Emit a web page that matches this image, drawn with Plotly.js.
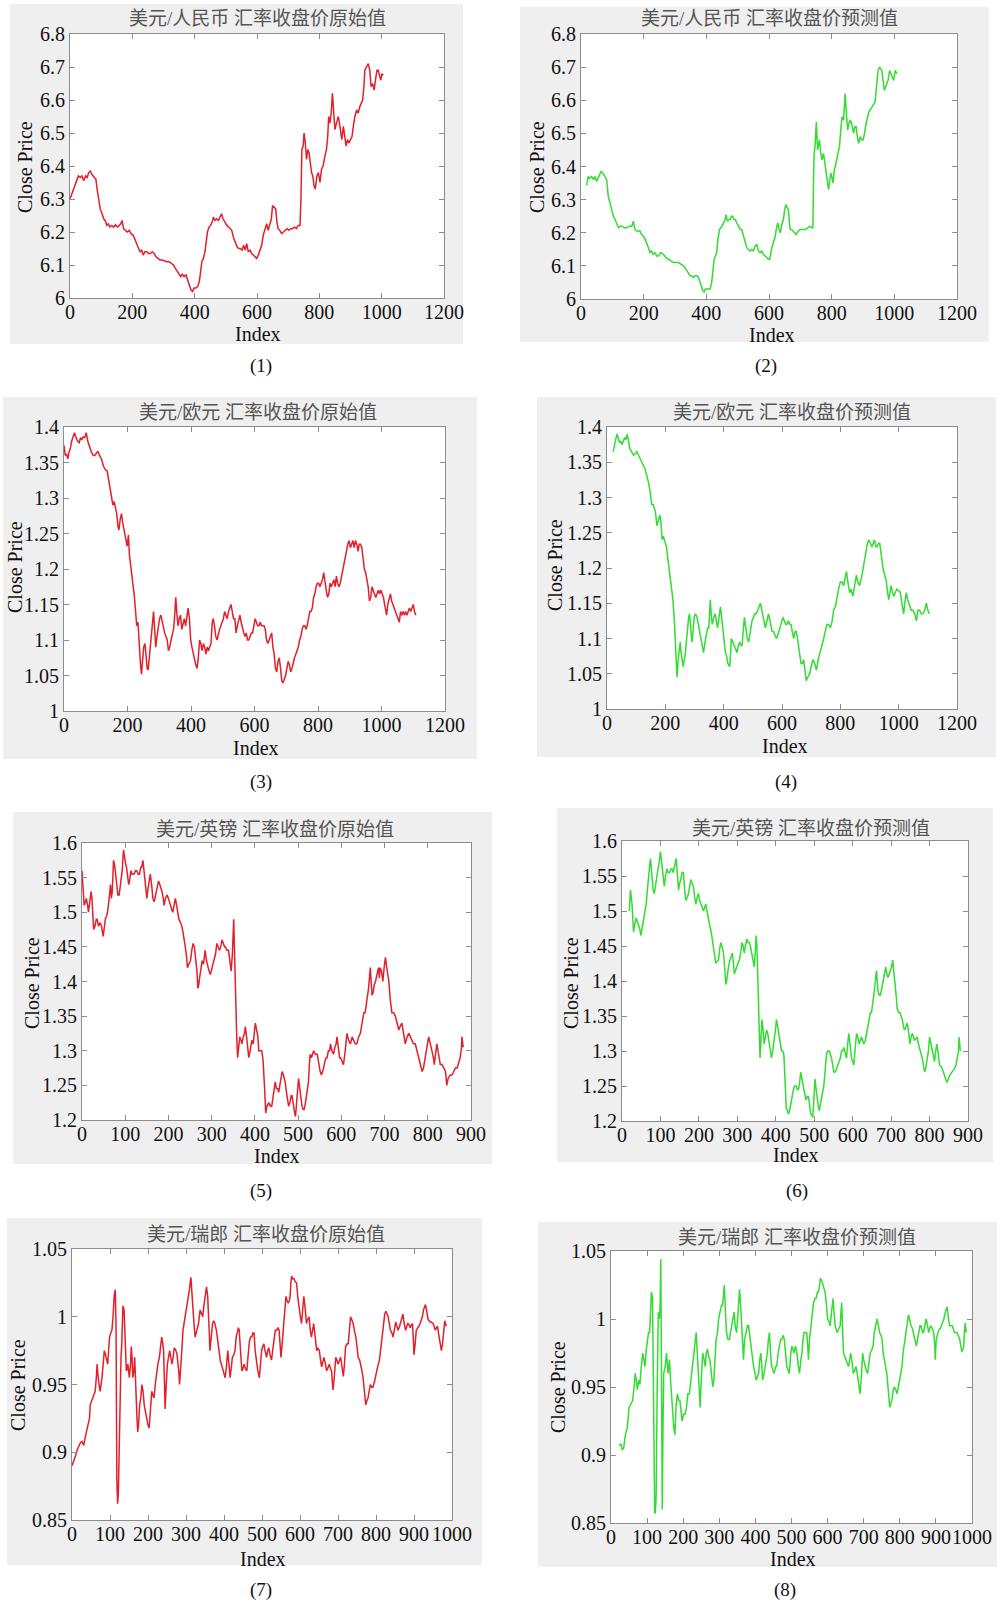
<!DOCTYPE html>
<html><head><meta charset="utf-8">
<script src="https://cdn.plot.ly/plotly-3.0.1.min.js"></script>
<style>html,body{margin:0;padding:0;background:#fff}</style>
</head><body><div id="chart" style="width:997px;height:1605px"></div>
<script>
// ---------------- DATA: [index, close price] ----------------
const usdCnyActual = [[0,6.30],[8,6.32],[15,6.34],[22,6.36],[27,6.37],[33,6.365],[38,6.37],[44,6.355],[50,6.37],[55,6.365],[60,6.38],[65,6.385],[70,6.375],[78,6.365],[83,6.36],[87,6.33],[92,6.30],[97,6.27],[103,6.255],[108,6.24],[113,6.235],[118,6.22],[123,6.225],[128,6.215],[134,6.22],[140,6.215],[146,6.222],[152,6.215],[158,6.22],[163,6.225],[167,6.235],[172,6.21],[178,6.205],[184,6.20],[190,6.205],[196,6.195],[203,6.19],[209,6.175],[214,6.16],[220,6.15],[225,6.14],[230,6.145],[235,6.13],[240,6.14],[246,6.14],[252,6.135],[258,6.135],[264,6.14],[270,6.135],[276,6.125],[282,6.12],[289,6.115],[296,6.115],[303,6.112],[310,6.11],[318,6.11],[325,6.105],[332,6.10],[338,6.09],[345,6.08],[350,6.075],[355,6.065],[360,6.072],[366,6.065],[372,6.07],[378,6.055],[383,6.04],[388,6.025],[393,6.02],[398,6.03],[404,6.03],[410,6.035],[415,6.05],[419,6.09],[423,6.11],[428,6.12],[433,6.14],[437,6.17],[441,6.20],[446,6.215],[451,6.22],[456,6.23],[460,6.245],[465,6.235],[470,6.24],[476,6.235],[481,6.245],[486,6.255],[491,6.24],[497,6.23],[503,6.22],[509,6.215],[514,6.21],[519,6.205],[524,6.185],[530,6.17],[536,6.155],[541,6.15],[546,6.15],[552,6.145],[557,6.16],[562,6.145],[567,6.165],[572,6.14],[578,6.145],[583,6.135],[588,6.13],[594,6.125],[599,6.12],[604,6.13],[610,6.15],[615,6.16],[620,6.19],[626,6.21],[631,6.225],[636,6.205],[641,6.22],[646,6.24],[650,6.28],[655,6.275],[660,6.27],[664,6.23],[668,6.21],[673,6.205],[679,6.195],[685,6.20],[690,6.205],[696,6.21],[702,6.205],[708,6.21],[714,6.21],[720,6.215],[726,6.21],[732,6.22],[738,6.22],[741,6.30],[744,6.45],[748,6.46],[751,6.50],[755,6.47],[759,6.42],[763,6.45],[767,6.44],[771,6.40],[775,6.38],[779,6.37],[783,6.34],[787,6.33],[792,6.37],[797,6.38],[802,6.35],[807,6.39],[812,6.40],[818,6.43],[823,6.45],[827,6.49],[830,6.55],[834,6.53],[838,6.56],[842,6.62],[846,6.56],[850,6.51],[855,6.53],[861,6.55],[866,6.52],[872,6.48],[877,6.52],[882,6.49],[886,6.46],[890,6.48],[895,6.47],[900,6.48],[905,6.49],[909,6.52],[914,6.55],[920,6.57],[925,6.56],[930,6.58],[935,6.59],[939,6.60],[943,6.64],[946,6.69],[951,6.70],[957,6.71],[962,6.69],[966,6.64],[971,6.65],[976,6.63],[980,6.66],[985,6.69],[989,6.69],[993,6.67],[997,6.66],[1001,6.68],[1005,6.675]];

const usdCnyPredicted = [[18,6.343],[23,6.37],[28,6.365],[34,6.37],[40,6.36],[45,6.37],[50,6.355],[55,6.365],[59,6.375],[64,6.385],[70,6.38],[75,6.37],[82,6.36],[87,6.31],[92,6.295],[98,6.27],[103,6.25],[109,6.24],[115,6.225],[120,6.215],[125,6.22],[130,6.22],[138,6.215],[146,6.215],[154,6.22],[162,6.22],[167,6.235],[172,6.21],[178,6.205],[188,6.205],[193,6.195],[199,6.19],[205,6.18],[210,6.17],[215,6.155],[220,6.14],[225,6.145],[229,6.135],[236,6.14],[242,6.13],[247,6.13],[255,6.14],[263,6.135],[271,6.125],[279,6.12],[287,6.115],[295,6.11],[303,6.11],[311,6.11],[319,6.105],[327,6.10],[335,6.09],[343,6.08],[348,6.07],[353,6.07],[358,6.065],[364,6.07],[370,6.07],[375,6.065],[380,6.05],[385,6.04],[389,6.025],[393,6.02],[397,6.03],[401,6.03],[407,6.03],[412,6.03],[417,6.05],[421,6.09],[425,6.12],[429,6.13],[433,6.14],[437,6.18],[442,6.21],[446,6.215],[450,6.22],[455,6.23],[460,6.24],[463,6.255],[467,6.235],[472,6.24],[476,6.24],[480,6.25],[484,6.25],[488,6.24],[492,6.24],[497,6.23],[503,6.22],[508,6.21],[513,6.21],[518,6.19],[524,6.17],[529,6.155],[534,6.15],[540,6.145],[545,6.15],[550,6.145],[556,6.16],[561,6.165],[566,6.145],[572,6.14],[577,6.145],[582,6.135],[588,6.13],[593,6.125],[598,6.12],[602,6.12],[605,6.14],[609,6.155],[614,6.17],[620,6.19],[624,6.215],[628,6.23],[632,6.21],[636,6.20],[641,6.225],[646,6.24],[650,6.27],[654,6.285],[658,6.275],[662,6.27],[665,6.23],[668,6.21],[672,6.21],[676,6.205],[681,6.20],[687,6.195],[693,6.205],[700,6.21],[708,6.21],[716,6.21],[724,6.215],[731,6.22],[736,6.215],[740,6.215],[742,6.35],[744,6.44],[747,6.46],[751,6.535],[755,6.45],[758,6.47],[761,6.48],[765,6.44],[769,6.42],[774,6.44],[779,6.40],[783,6.37],[787,6.35],[790,6.33],[794,6.36],[797,6.38],[800,6.37],[804,6.35],[808,6.385],[811,6.40],[815,6.41],[819,6.43],[822,6.45],[825,6.46],[829,6.51],[833,6.55],[838,6.54],[841,6.58],[843,6.62],[847,6.56],[851,6.51],[855,6.53],[859,6.54],[864,6.53],[870,6.50],[874,6.52],[878,6.52],[882,6.49],[886,6.47],[891,6.49],[896,6.48],[900,6.48],[904,6.495],[908,6.52],[912,6.54],[917,6.56],[921,6.57],[926,6.575],[932,6.585],[936,6.59],[939,6.60],[942,6.63],[944,6.66],[948,6.69],[953,6.70],[957,6.695],[960,6.69],[964,6.66],[968,6.63],[972,6.64],[976,6.65],[980,6.66],[985,6.69],[989,6.68],[992,6.67],[995,6.665],[998,6.66],[1001,6.68],[1003,6.69],[1008,6.68]];

const usdEurActual = [[0,1.374],[4,1.36],[8,1.362],[12,1.355],[16,1.365],[20,1.37],[24,1.38],[28,1.385],[33,1.392],[38,1.385],[43,1.38],[48,1.378],[52,1.385],[56,1.382],[60,1.386],[65,1.385],[70,1.392],[75,1.38],[80,1.372],[86,1.365],[92,1.36],[97,1.36],[102,1.363],[107,1.366],[112,1.36],[118,1.355],[124,1.345],[130,1.34],[136,1.338],[141,1.325],[146,1.315],[150,1.30],[154,1.29],[158,1.295],[162,1.285],[166,1.278],[170,1.26],[173,1.255],[177,1.27],[181,1.278],[185,1.265],[188,1.258],[192,1.25],[196,1.24],[199,1.232],[203,1.248],[206,1.22],[210,1.205],[214,1.185],[218,1.175],[222,1.16],[226,1.14],[229,1.12],[233,1.125],[237,1.09],[241,1.065],[244,1.052],[247,1.07],[251,1.09],[255,1.095],[259,1.075],[262,1.06],[265,1.058],[268,1.075],[272,1.09],[275,1.11],[279,1.125],[282,1.14],[285,1.12],[289,1.09],[293,1.105],[297,1.12],[301,1.13],[305,1.135],[309,1.125],[313,1.12],[317,1.11],[321,1.105],[325,1.10],[329,1.085],[333,1.09],[337,1.10],[341,1.11],[345,1.115],[348,1.13],[352,1.16],[355,1.14],[359,1.12],[363,1.13],[367,1.135],[371,1.115],[375,1.125],[379,1.13],[383,1.12],[387,1.135],[391,1.145],[395,1.13],[399,1.10],[403,1.09],[407,1.08],[411,1.07],[415,1.065],[419,1.06],[423,1.075],[427,1.10],[431,1.095],[435,1.085],[439,1.095],[443,1.09],[447,1.08],[451,1.09],[455,1.085],[459,1.09],[463,1.095],[467,1.125],[470,1.13],[474,1.12],[478,1.105],[482,1.10],[486,1.11],[490,1.115],[494,1.12],[498,1.125],[502,1.13],[506,1.14],[510,1.135],[514,1.13],[518,1.14],[522,1.145],[526,1.15],[530,1.14],[534,1.13],[538,1.13],[542,1.11],[546,1.12],[550,1.13],[554,1.135],[558,1.125],[562,1.115],[566,1.11],[570,1.105],[574,1.11],[578,1.10],[582,1.10],[586,1.105],[590,1.11],[594,1.11],[598,1.12],[602,1.13],[606,1.125],[610,1.12],[614,1.12],[618,1.125],[622,1.12],[626,1.12],[630,1.12],[634,1.115],[638,1.10],[642,1.095],[646,1.10],[650,1.105],[654,1.11],[658,1.09],[662,1.08],[666,1.06],[670,1.055],[674,1.07],[678,1.075],[682,1.06],[686,1.042],[690,1.04],[694,1.045],[698,1.05],[702,1.06],[706,1.07],[710,1.065],[714,1.055],[718,1.06],[722,1.07],[726,1.075],[730,1.08],[734,1.085],[738,1.09],[742,1.10],[746,1.105],[750,1.115],[754,1.12],[758,1.12],[762,1.115],[766,1.12],[770,1.13],[774,1.14],[778,1.14],[782,1.145],[786,1.16],[790,1.165],[794,1.175],[798,1.18],[802,1.18],[806,1.175],[810,1.18],[814,1.185],[818,1.195],[822,1.18],[826,1.17],[830,1.16],[834,1.165],[838,1.18],[842,1.175],[846,1.18],[850,1.185],[854,1.175],[858,1.19],[862,1.18],[866,1.175],[870,1.18],[874,1.19],[878,1.20],[882,1.205],[886,1.22],[890,1.225],[894,1.235],[898,1.24],[902,1.23],[906,1.235],[910,1.24],[914,1.23],[918,1.24],[922,1.235],[926,1.225],[930,1.235],[934,1.235],[938,1.23],[942,1.215],[946,1.20],[950,1.195],[954,1.185],[958,1.175],[962,1.155],[966,1.16],[970,1.175],[974,1.17],[978,1.165],[982,1.16],[986,1.165],[990,1.17],[994,1.165],[998,1.17],[1002,1.165],[1006,1.16],[1010,1.15],[1014,1.14],[1016,1.135],[1020,1.15],[1024,1.16],[1028,1.165],[1032,1.155],[1036,1.15],[1040,1.145],[1044,1.14],[1048,1.135],[1052,1.13],[1056,1.125],[1060,1.14],[1064,1.135],[1068,1.14],[1072,1.135],[1076,1.14],[1080,1.135],[1084,1.14],[1088,1.145],[1092,1.14],[1096,1.145],[1100,1.15],[1104,1.14],[1108,1.135]];

const usdEurPredicted = [[21,1.365],[25,1.372],[29,1.38],[34,1.39],[38,1.385],[43,1.378],[47,1.38],[51,1.375],[56,1.38],[61,1.385],[65,1.382],[69,1.39],[74,1.38],[78,1.37],[84,1.365],[91,1.36],[97,1.362],[103,1.365],[108,1.36],[114,1.355],[120,1.35],[126,1.345],[131,1.34],[137,1.33],[143,1.32],[149,1.305],[153,1.29],[158,1.29],[162,1.285],[166,1.28],[171,1.26],[175,1.265],[181,1.275],[185,1.265],[189,1.24],[193,1.245],[197,1.24],[200,1.235],[204,1.23],[208,1.215],[212,1.20],[217,1.18],[221,1.17],[226,1.155],[231,1.125],[235,1.095],[238,1.07],[240,1.045],[244,1.07],[248,1.09],[251,1.095],[254,1.08],[258,1.07],[261,1.06],[265,1.07],[269,1.08],[273,1.10],[277,1.12],[280,1.13],[283,1.135],[287,1.115],[291,1.095],[295,1.11],[299,1.13],[303,1.135],[309,1.13],[313,1.12],[318,1.11],[322,1.10],[326,1.09],[331,1.08],[336,1.095],[341,1.11],[345,1.115],[349,1.115],[352,1.135],[354,1.155],[358,1.13],[361,1.12],[366,1.13],[371,1.135],[375,1.125],[379,1.115],[384,1.13],[389,1.145],[393,1.13],[398,1.11],[402,1.095],[406,1.08],[410,1.075],[414,1.065],[418,1.062],[421,1.06],[424,1.08],[426,1.10],[431,1.095],[437,1.09],[441,1.085],[446,1.08],[450,1.09],[455,1.095],[459,1.09],[463,1.09],[467,1.11],[471,1.13],[476,1.115],[481,1.10],[486,1.095],[491,1.11],[497,1.125],[502,1.13],[507,1.135],[512,1.135],[517,1.14],[522,1.145],[526,1.15],[531,1.14],[535,1.13],[539,1.125],[543,1.115],[548,1.125],[554,1.135],[559,1.125],[563,1.115],[566,1.11],[571,1.11],[576,1.105],[581,1.10],[586,1.105],[592,1.115],[597,1.12],[603,1.13],[608,1.125],[613,1.12],[617,1.12],[622,1.125],[627,1.12],[631,1.12],[635,1.11],[640,1.10],[645,1.11],[649,1.11],[653,1.10],[657,1.09],[661,1.08],[665,1.065],[670,1.065],[674,1.07],[679,1.055],[683,1.04],[688,1.045],[695,1.05],[700,1.06],[706,1.07],[712,1.065],[718,1.055],[724,1.07],[731,1.08],[737,1.09],[743,1.10],[748,1.11],[754,1.12],[760,1.12],[766,1.115],[772,1.125],[777,1.14],[783,1.145],[789,1.16],[794,1.17],[800,1.18],[806,1.18],[811,1.175],[816,1.185],[821,1.195],[826,1.18],[832,1.165],[837,1.17],[843,1.16],[849,1.175],[855,1.19],[860,1.18],[866,1.175],[872,1.185],[878,1.20],[883,1.21],[889,1.225],[893,1.235],[897,1.24],[903,1.235],[909,1.23],[913,1.235],[917,1.24],[922,1.23],[926,1.23],[931,1.235],[935,1.235],[940,1.22],[946,1.20],[952,1.19],[958,1.18],[962,1.165],[966,1.155],[970,1.165],[974,1.175],[979,1.165],[983,1.16],[988,1.165],[994,1.17],[1000,1.168],[1006,1.165],[1011,1.15],[1015,1.14],[1017,1.135],[1021,1.15],[1026,1.165],[1031,1.155],[1038,1.145],[1043,1.14],[1049,1.14],[1055,1.135],[1061,1.125],[1066,1.14],[1072,1.14],[1077,1.135],[1083,1.135],[1089,1.14],[1095,1.15],[1100,1.14],[1106,1.135]];

const usdGbpActual = [[0,1.56],[3,1.53],[5,1.51],[8,1.515],[10,1.52],[13,1.51],[15,1.50],[18,1.515],[21,1.53],[23,1.52],[24,1.51],[26,1.49],[27,1.475],[30,1.48],[33,1.49],[35,1.49],[38,1.48],[42,1.485],[45,1.48],[49,1.465],[52,1.48],[54,1.49],[57,1.495],[59,1.50],[62,1.515],[64,1.53],[66,1.54],[68,1.52],[70,1.53],[73,1.575],[75,1.57],[77,1.56],[79,1.545],[81,1.53],[83,1.525],[86,1.525],[88,1.535],[90,1.54],[93,1.56],[96,1.59],[99,1.575],[101,1.57],[103,1.565],[105,1.555],[108,1.54],[110,1.545],[113,1.56],[116,1.555],[120,1.555],[124,1.56],[127,1.56],[130,1.555],[133,1.555],[136,1.565],[138,1.565],[141,1.575],[144,1.555],[147,1.54],[150,1.52],[153,1.535],[156,1.545],[158,1.555],[161,1.54],[164,1.52],[167,1.515],[170,1.525],[174,1.535],[177,1.545],[180,1.54],[183,1.535],[185,1.53],[188,1.52],[190,1.51],[193,1.52],[197,1.525],[200,1.52],[204,1.51],[207,1.505],[210,1.50],[213,1.51],[216,1.52],[219,1.51],[222,1.50],[224,1.49],[228,1.485],[231,1.48],[234,1.47],[237,1.46],[239,1.45],[242,1.435],[244,1.42],[247,1.425],[251,1.43],[254,1.445],[257,1.455],[260,1.45],[262,1.44],[264,1.43],[266,1.415],[268,1.39],[270,1.395],[272,1.405],[275,1.42],[278,1.43],[281,1.425],[285,1.445],[288,1.43],[291,1.42],[294,1.415],[297,1.41],[300,1.42],[303,1.425],[305,1.43],[309,1.44],[312,1.455],[315,1.45],[318,1.445],[321,1.45],[324,1.46],[327,1.455],[330,1.45],[332,1.45],[335,1.445],[339,1.445],[342,1.43],[345,1.415],[348,1.44],[351,1.49],[353,1.44],[355,1.39],[356,1.34],[358,1.32],[360,1.29],[362,1.305],[365,1.32],[368,1.315],[370,1.31],[373,1.32],[376,1.325],[378,1.335],[381,1.32],[384,1.30],[386,1.29],[389,1.30],[393,1.315],[396,1.31],[399,1.325],[401,1.34],[404,1.33],[407,1.32],[409,1.30],[412,1.30],[416,1.30],[419,1.285],[422,1.26],[423,1.24],[425,1.21],[428,1.22],[432,1.225],[436,1.22],[439,1.22],[442,1.235],[445,1.25],[447,1.255],[450,1.245],[453,1.245],[455,1.24],[458,1.25],[461,1.26],[463,1.27],[466,1.265],[468,1.26],[470,1.255],[473,1.24],[476,1.23],[478,1.22],[481,1.225],[484,1.235],[486,1.235],[489,1.22],[492,1.21],[494,1.205],[497,1.23],[499,1.25],[501,1.26],[504,1.245],[507,1.23],[509,1.22],[512,1.215],[514,1.215],[517,1.225],[519,1.235],[521,1.24],[524,1.255],[526,1.28],[528,1.295],[531,1.29],[534,1.295],[536,1.30],[540,1.295],[544,1.295],[547,1.285],[549,1.275],[551,1.27],[554,1.265],[557,1.27],[559,1.275],[562,1.285],[565,1.29],[567,1.29],[570,1.30],[573,1.30],[575,1.31],[578,1.30],[582,1.295],[585,1.305],[588,1.31],[590,1.32],[593,1.30],[596,1.29],[598,1.29],[601,1.285],[605,1.28],[609,1.30],[613,1.325],[617,1.315],[621,1.31],[625,1.32],[628,1.315],[632,1.31],[636,1.31],[640,1.32],[644,1.325],[648,1.34],[652,1.355],[655,1.355],[659,1.37],[663,1.39],[667,1.42],[669,1.40],[671,1.38],[674,1.385],[676,1.395],[679,1.40],[683,1.41],[686,1.42],[688,1.405],[690,1.42],[693,1.415],[696,1.40],[699,1.42],[702,1.435],[705,1.42],[708,1.41],[710,1.40],[713,1.375],[715,1.36],[717,1.355],[721,1.355],[725,1.35],[729,1.34],[733,1.33],[736,1.335],[740,1.34],[744,1.325],[748,1.31],[752,1.32],[756,1.325],[760,1.32],[763,1.315],[767,1.31],[771,1.31],[775,1.30],[779,1.29],[783,1.28],[787,1.27],[790,1.275],[794,1.29],[798,1.305],[802,1.32],[806,1.31],[810,1.30],[813,1.29],[815,1.28],[818,1.295],[821,1.31],[825,1.295],[829,1.28],[833,1.28],[837,1.275],[841,1.27],[844,1.25],[847,1.26],[852,1.265],[856,1.265],[860,1.27],[864,1.275],[868,1.275],[872,1.285],[875,1.29],[878,1.305],[879,1.32],[882,1.305]];

const usdGbpPredicted = [[19,1.50],[22,1.53],[24,1.52],[26,1.51],[28,1.49],[30,1.47],[33,1.48],[37,1.49],[40,1.485],[43,1.48],[46,1.475],[49,1.465],[52,1.475],[56,1.49],[59,1.50],[63,1.51],[66,1.53],[69,1.555],[72,1.565],[74,1.575],[76,1.56],[78,1.54],[81,1.53],[84,1.525],[87,1.535],[89,1.54],[92,1.55],[95,1.56],[98,1.575],[100,1.585],[103,1.57],[106,1.56],[108,1.545],[110,1.535],[113,1.55],[117,1.56],[120,1.555],[124,1.555],[127,1.56],[130,1.56],[133,1.555],[136,1.565],[139,1.57],[141,1.575],[144,1.55],[147,1.53],[150,1.54],[153,1.545],[156,1.555],[160,1.555],[163,1.53],[166,1.515],[170,1.52],[173,1.525],[176,1.535],[179,1.545],[182,1.54],[186,1.535],[189,1.52],[192,1.51],[196,1.52],[199,1.525],[202,1.515],[205,1.51],[209,1.505],[212,1.50],[215,1.505],[218,1.51],[221,1.50],[225,1.485],[228,1.48],[232,1.47],[235,1.46],[238,1.45],[241,1.44],[244,1.425],[247,1.428],[251,1.43],[254,1.445],[257,1.455],[260,1.45],[264,1.44],[267,1.42],[270,1.395],[272,1.40],[274,1.41],[277,1.42],[281,1.43],[284,1.435],[287,1.44],[290,1.425],[292,1.41],[295,1.415],[299,1.42],[302,1.425],[305,1.43],[309,1.44],[312,1.455],[315,1.45],[318,1.44],[321,1.45],[325,1.46],[328,1.455],[331,1.455],[334,1.45],[337,1.44],[340,1.43],[344,1.42],[347,1.445],[349,1.465],[351,1.45],[353,1.41],[355,1.36],[357,1.33],[359,1.29],[361,1.31],[364,1.345],[367,1.33],[370,1.31],[373,1.32],[376,1.33],[379,1.325],[383,1.31],[386,1.30],[389,1.29],[392,1.30],[396,1.315],[399,1.33],[402,1.345],[405,1.335],[409,1.32],[412,1.31],[415,1.30],[418,1.30],[421,1.295],[424,1.26],[427,1.22],[430,1.215],[433,1.21],[436,1.215],[439,1.225],[442,1.235],[446,1.245],[449,1.25],[453,1.25],[456,1.245],[459,1.245],[462,1.255],[465,1.27],[468,1.26],[472,1.245],[475,1.24],[479,1.23],[482,1.235],[485,1.235],[488,1.22],[491,1.21],[494,1.208],[496,1.205],[499,1.23],[502,1.26],[505,1.245],[508,1.23],[511,1.22],[513,1.215],[516,1.225],[519,1.235],[522,1.245],[525,1.25],[528,1.27],[532,1.295],[535,1.30],[539,1.30],[542,1.295],[545,1.29],[548,1.28],[551,1.27],[555,1.27],[558,1.275],[561,1.28],[565,1.285],[568,1.29],[571,1.30],[574,1.30],[577,1.305],[581,1.295],[584,1.29],[587,1.31],[590,1.325],[593,1.31],[597,1.29],[600,1.285],[603,1.28],[606,1.30],[610,1.325],[613,1.32],[617,1.31],[620,1.315],[623,1.32],[626,1.315],[629,1.31],[633,1.315],[636,1.325],[639,1.335],[643,1.35],[646,1.355],[649,1.355],[652,1.365],[655,1.38],[659,1.40],[662,1.415],[664,1.40],[666,1.385],[669,1.38],[672,1.38],[676,1.39],[679,1.40],[683,1.41],[686,1.42],[689,1.41],[692,1.405],[695,1.41],[698,1.415],[701,1.42],[704,1.43],[707,1.415],[710,1.40],[713,1.38],[716,1.36],[720,1.355],[723,1.355],[726,1.35],[729,1.345],[732,1.335],[735,1.33],[739,1.335],[742,1.34],[746,1.325],[749,1.31],[752,1.32],[755,1.325],[758,1.32],[761,1.315],[765,1.318],[768,1.32],[771,1.31],[774,1.305],[778,1.295],[781,1.29],[784,1.28],[787,1.27],[790,1.275],[793,1.285],[797,1.30],[800,1.32],[804,1.31],[807,1.305],[810,1.295],[813,1.285],[816,1.30],[819,1.31],[823,1.295],[826,1.28],[830,1.278],[833,1.275],[836,1.27],[839,1.265],[842,1.26],[845,1.255],[849,1.26],[852,1.265],[856,1.268],[859,1.27],[862,1.272],[865,1.275],[869,1.28],[872,1.29],[875,1.30],[877,1.32],[880,1.30]];

const usdChfActual = [[0,0.89],[3,0.892],[6,0.895],[10,0.898],[14,0.902],[18,0.905],[22,0.907],[26,0.908],[29,0.906],[31,0.905],[34,0.91],[38,0.915],[41,0.918],[44,0.92],[46,0.925],[48,0.935],[51,0.937],[55,0.94],[58,0.942],[61,0.945],[64,0.955],[66,0.965],[68,0.958],[70,0.95],[72,0.948],[74,0.945],[77,0.95],[79,0.955],[82,0.965],[85,0.975],[88,0.972],[90,0.97],[92,0.967],[94,0.965],[97,0.978],[99,0.985],[102,0.988],[105,0.99],[108,1.0],[111,1.015],[114,1.02],[116,0.99],[118,0.88],[120,0.862],[122,0.87],[124,0.9],[127,0.95],[129,0.97],[131,0.98],[134,1.008],[137,1.005],[140,0.98],[143,0.96],[145,0.962],[147,0.965],[149,0.96],[151,0.955],[154,0.965],[156,0.978],[158,0.97],[160,0.955],[163,0.96],[165,0.97],[167,0.955],[169,0.93],[171,0.925],[173,0.915],[175,0.92],[178,0.935],[181,0.94],[184,0.95],[187,0.945],[190,0.935],[193,0.93],[197,0.925],[200,0.92],[203,0.918],[206,0.93],[210,0.945],[213,0.942],[216,0.94],[219,0.95],[223,0.96],[226,0.965],[230,0.97],[233,0.978],[236,0.985],[239,0.98],[241,0.975],[243,0.955],[245,0.932],[248,0.95],[251,0.965],[254,0.97],[257,0.975],[260,0.97],[263,0.965],[266,0.97],[269,0.977],[272,0.976],[276,0.973],[279,0.965],[281,0.96],[283,0.95],[286,0.96],[289,0.975],[292,0.99],[295,0.995],[298,1.0],[302,1.008],[305,1.013],[309,1.02],[311,1.025],[313,1.029],[315,1.02],[318,1.005],[321,0.995],[324,0.985],[327,0.988],[330,0.99],[333,0.995],[337,1.005],[340,1.003],[344,1.0],[347,1.008],[350,1.015],[354,1.022],[357,1.015],[359,1.005],[361,0.99],[363,0.975],[366,0.985],[370,0.995],[373,0.997],[376,0.995],[380,0.99],[383,0.985],[387,0.975],[390,0.968],[393,0.965],[397,0.96],[400,0.958],[403,0.955],[406,0.962],[410,0.975],[413,0.965],[416,0.955],[419,0.962],[422,0.97],[426,0.972],[429,0.975],[432,0.985],[435,0.99],[438,0.992],[440,0.99],[443,0.975],[447,0.96],[450,0.962],[453,0.965],[456,0.962],[460,0.96],[463,0.97],[467,0.982],[470,0.985],[473,0.985],[476,0.988],[479,0.988],[482,0.975],[486,0.965],[489,0.96],[493,0.955],[496,0.965],[499,0.975],[502,0.978],[505,0.98],[508,0.975],[512,0.97],[515,0.975],[518,0.977],[521,0.972],[525,0.968],[528,0.975],[532,0.985],[535,0.99],[539,0.99],[542,0.992],[545,0.99],[548,0.975],[550,0.97],[553,0.98],[556,0.99],[560,1.005],[563,1.015],[566,1.012],[569,1.01],[572,1.012],[574,1.015],[576,1.025],[578,1.03],[581,1.028],[584,1.028],[587,1.026],[591,1.025],[594,1.015],[598,1.005],[601,1.0],[604,0.995],[607,1.005],[610,1.015],[613,1.008],[617,0.995],[620,0.998],[624,1.0],[627,0.99],[630,0.985],[633,0.99],[636,0.995],[640,0.985],[644,0.975],[647,0.977],[651,0.975],[654,0.968],[657,0.963],[660,0.967],[663,0.97],[667,0.965],[670,0.96],[673,0.962],[677,0.965],[680,0.962],[683,0.96],[685,0.952],[687,0.946],[690,0.955],[694,0.97],[697,0.968],[700,0.965],[704,0.968],[707,0.97],[711,0.962],[714,0.956],[717,0.965],[720,0.978],[724,0.98],[727,0.98],[730,0.99],[733,1.0],[736,0.998],[740,0.995],[743,0.99],[747,0.985],[750,0.978],[753,0.97],[757,0.968],[760,0.965],[763,0.96],[766,0.955],[770,0.945],[773,0.935],[776,0.938],[779,0.94],[782,0.945],[785,0.95],[789,0.948],[792,0.948],[796,0.952],[799,0.955],[802,0.96],[806,0.965],[809,0.968],[812,0.975],[816,0.985],[819,0.995],[823,1.002],[826,1.004],[829,1.002],[832,1.0],[835,0.995],[838,0.99],[842,0.988],[845,0.985],[848,0.99],[852,0.996],[855,0.993],[858,0.99],[861,0.992],[864,0.995],[868,0.998],[871,1.002],[874,0.995],[878,0.99],[881,0.993],[884,0.995],[887,0.994],[890,0.992],[893,0.994],[896,0.995],[898,0.985],[900,0.972],[903,0.98],[906,0.99],[910,0.992],[913,0.993],[916,0.995],[919,0.997],[922,1.0],[925,1.005],[928,1.007],[930,1.009],[933,1.005],[937,0.998],[940,0.997],[943,0.996],[946,0.996],[950,0.995],[953,0.993],[956,0.99],[959,0.992],[962,0.993],[965,0.987],[968,0.98],[970,0.978],[972,0.975],[975,0.98],[977,0.985],[979,0.99],[981,0.997],[983,0.995],[985,0.993]];

const usdChfPredicted = [[23,0.907],[27,0.908],[31,0.904],[35,0.905],[40,0.915],[45,0.92],[50,0.935],[55,0.938],[60,0.94],[64,0.95],[67,0.96],[70,0.955],[73,0.948],[77,0.955],[80,0.952],[84,0.965],[88,0.975],[91,0.97],[94,0.965],[98,0.978],[101,0.985],[104,0.99],[107,0.99],[110,1.005],[112,1.02],[115,1.015],[117,0.95],[119,0.87],[121,0.857],[123,0.858],[125,0.87],[128,0.95],[131,1.005],[134,1.0],[136,1.01],[138,1.044],[140,0.95],[142,0.86],[144,0.92],[146,0.96],[150,0.965],[154,0.975],[158,0.96],[162,0.97],[165,0.955],[168,0.94],[171,0.925],[174,0.92],[177,0.915],[180,0.935],[184,0.945],[188,0.94],[191,0.94],[194,0.93],[197,0.925],[201,0.93],[205,0.93],[209,0.935],[213,0.945],[217,0.945],[221,0.955],[224,0.965],[227,0.97],[230,0.975],[233,0.985],[236,0.99],[239,0.975],[242,0.96],[245,0.945],[247,0.935],[250,0.955],[254,0.975],[258,0.97],[261,0.965],[264,0.975],[267,0.978],[271,0.972],[274,0.97],[278,0.96],[282,0.95],[285,0.955],[288,0.97],[291,0.985],[295,0.99],[298,1.0],[302,1.005],[306,1.01],[309,1.01],[312,1.02],[314,1.025],[317,1.005],[320,0.99],[324,0.985],[328,0.985],[331,0.99],[334,0.995],[338,1.0],[341,1.005],[344,0.995],[348,0.99],[352,1.005],[356,1.022],[359,1.01],[362,0.995],[365,0.98],[367,0.97],[370,0.985],[374,0.99],[378,0.995],[381,0.995],[385,0.985],[388,0.98],[392,0.97],[395,0.965],[399,0.96],[402,0.955],[406,0.958],[409,0.96],[412,0.97],[415,0.975],[418,0.965],[420,0.955],[424,0.96],[427,0.965],[430,0.97],[433,0.975],[436,0.985],[439,0.99],[442,0.975],[445,0.965],[449,0.962],[452,0.96],[456,0.965],[459,0.965],[463,0.975],[467,0.98],[470,0.985],[473,0.985],[477,0.988],[480,0.985],[484,0.975],[487,0.965],[491,0.962],[494,0.96],[498,0.975],[501,0.98],[504,0.978],[507,0.975],[511,0.98],[515,0.975],[519,0.965],[522,0.96],[526,0.97],[529,0.975],[532,0.985],[535,0.99],[539,0.99],[542,0.99],[545,0.98],[547,0.97],[550,0.985],[554,0.995],[557,1.005],[561,1.012],[565,1.015],[568,1.015],[572,1.02],[575,1.02],[578,1.025],[580,1.03],[584,1.028],[587,1.025],[590,1.022],[593,1.02],[597,1.01],[600,1.0],[604,0.998],[607,0.995],[611,1.005],[615,1.015],[618,1.005],[621,0.995],[624,0.992],[627,0.99],[631,0.993],[635,0.995],[637,1.005],[639,1.012],[642,0.99],[644,0.975],[648,0.972],[651,0.97],[655,0.967],[658,0.965],[661,0.97],[664,0.975],[668,0.968],[671,0.96],[675,0.962],[679,0.965],[682,0.96],[685,0.955],[688,0.95],[690,0.945],[694,0.96],[697,0.975],[700,0.97],[704,0.965],[707,0.962],[711,0.96],[714,0.967],[718,0.975],[722,0.977],[726,0.98],[729,0.99],[732,0.995],[735,1.0],[737,1.0],[741,0.995],[744,0.99],[748,0.988],[751,0.985],[754,0.975],[757,0.97],[761,0.965],[764,0.96],[768,0.948],[772,0.935],[775,0.938],[778,0.94],[782,0.948],[785,0.95],[789,0.948],[792,0.945],[796,0.95],[799,0.955],[803,0.96],[806,0.965],[809,0.975],[812,0.98],[816,0.99],[820,0.995],[824,1.003],[827,1.0],[831,0.995],[835,0.993],[838,0.99],[842,0.985],[846,0.98],[849,0.985],[852,0.99],[856,0.995],[859,0.995],[863,0.99],[866,0.99],[870,0.995],[873,1.0],[877,0.995],[880,0.99],[883,0.993],[886,0.995],[890,0.993],[894,0.99],[897,0.98],[898,0.97],[901,0.985],[905,0.99],[908,0.992],[912,0.993],[915,0.995],[919,0.997],[922,1.0],[926,1.005],[929,1.008],[931,1.009],[935,1.0],[938,0.995],[942,0.995],[945,0.995],[948,0.993],[951,0.99],[955,0.99],[958,0.99],[962,0.988],[966,0.985],[969,0.98],[972,0.976],[975,0.978],[977,0.98],[979,0.99],[981,0.997],[984,0.99]];

// panel titles
const panelTitles = ['美元/人民币 汇率收盘价原始值','美元/人民币 汇率收盘价预测值','美元/欧元 汇率收盘价原始值','美元/欧元 汇率收盘价预测值','美元/英镑 汇率收盘价原始值','美元/英镑 汇率收盘价预测值','美元/瑞郎 汇率收盘价原始值','美元/瑞郎 汇率收盘价预测值'];
const captions = ['(1)','(2)','(3)','(4)','(5)','(6)','(7)','(8)'];
const xAxisTitle = 'Index';
const yAxisTitle = 'Close Price';

// tick values / labels
const xTicks1200 = [0,200,400,600,800,1000,1200];
const xTicks900 = [0,100,200,300,400,500,600,700,800,900];
const xTicks1000 = [0,100,200,300,400,500,600,700,800,900,1000];
const yTicksCny = [6,6.1,6.2,6.3,6.4,6.5,6.6,6.7,6.8];
const yTextCny = ['6','6.1','6.2','6.3','6.4','6.5','6.6','6.7','6.8'];
const yTicksEur = [1,1.05,1.1,1.15,1.2,1.25,1.3,1.35,1.4];
const yTextEur = ['1','1.05','1.1','1.15','1.2','1.25','1.3','1.35','1.4'];
const yTicksGbp = [1.2,1.25,1.3,1.35,1.4,1.45,1.5,1.55,1.6];
const yTextGbp = ['1.2','1.25','1.3','1.35','1.4','1.45','1.5','1.55','1.6'];
const yTicksChf = [0.85,0.9,0.95,1,1.05];
const yTextChf = ['0.85','0.9','0.95','1','1.05'];

// ---------------- LAYOUT (pixel boxes) ----------------
const W = 997, H = 1605;
const RED = '#e2202c', GREEN = '#33dc33';
const series = [usdCnyActual, usdCnyPredicted, usdEurActual, usdEurPredicted, usdGbpActual, usdGbpPredicted, usdChfActual, usdChfPredicted];
const colors = [RED, GREEN, RED, GREEN, RED, GREEN, RED, GREEN];
const xRanges = [[0,1200],[0,1200],[0,1200],[0,1200],[0,900],[0,900],[0,1000],[0,1000]];
const xTickSets = [xTicks1200,xTicks1200,xTicks1200,xTicks1200,xTicks900,xTicks900,xTicks1000,xTicks1000];
const yRanges = [[6,6.8],[6,6.8],[1,1.4],[1,1.4],[1.2,1.6],[1.2,1.6],[0.85,1.05],[0.85,1.05]];
const yTickSets = [[yTicksCny,yTextCny],[yTicksCny,yTextCny],[yTicksEur,yTextEur],[yTicksEur,yTextEur],[yTicksGbp,yTextGbp],[yTicksGbp,yTextGbp],[yTicksChf,yTextChf],[yTicksChf,yTextChf]];

const boxes = [
  {plot:[70,34,444,298], bg:[10,4,463,344], title:[257,18], ylab:[25,167], xlab:[258,334], cap:[261,366]},
  {plot:[581,34,957,299], bg:[520,7,989,342], title:[769,19], ylab:[537,167], xlab:[772,335], cap:[766,366]},
  {plot:[64,427,445,711], bg:[3,397,477,759], title:[258,412], ylab:[15,567], xlab:[256,748], cap:[261,782]},
  {plot:[607,427,957,709], bg:[537,397,996,757], title:[792,412], ylab:[555,565], xlab:[785,746], cap:[786,782]},
  {plot:[82,843,471,1120], bg:[13,812,492,1164], title:[275,830], ylab:[32,983], xlab:[277,1156], cap:[261,1191]},
  {plot:[622,841,968,1121], bg:[557,808,993,1162], title:[811,828], ylab:[571,983], xlab:[796,1155], cap:[797,1191]},
  {plot:[72,1249,452,1520], bg:[7,1218,482,1565], title:[266,1234], ylab:[18,1385], xlab:[263,1559], cap:[261,1590]},
  {plot:[611,1251,972,1523], bg:[538,1222,997,1567], title:[797,1237], ylab:[558,1387], xlab:[793,1559], cap:[785,1590]}
];

const SERIF = 'Liberation Serif, Times New Roman, serif';
const TITLEFONT = 'Liberation Serif, Noto Sans CJK SC, serif';
const AX = '#8c8c8c';
const px = v => v / W;
const py = v => 1 - v / H;

const traces = [];
const layout = {
  width: W, height: H,
  margin: {l:0, r:0, t:0, b:0},
  paper_bgcolor: '#ffffff',
  plot_bgcolor: 'rgba(0,0,0,0)',
  showlegend: false,
  shapes: [], annotations: []
};

boxes.forEach((b, i) => {
  const n = i + 1;
  const xa = n === 1 ? 'x' : 'x' + n, ya = n === 1 ? 'y' : 'y' + n;
  const data = series[i];
  traces.push({
    type: 'scatter', mode: 'lines',
    x: data.map(p => p[0]), y: data.map(p => p[1]),
    xaxis: xa, yaxis: ya,
    line: {color: colors[i], width: 1.5},
    hoverinfo: 'skip'
  });
  const common = {
    showline: true, linecolor: AX, linewidth: 1, mirror: 'ticks',
    ticks: 'inside', ticklen: 5, tickcolor: AX, tickwidth: 1,
    showgrid: false, zeroline: false, tickangle: 0, fixedrange: true,
    tickfont: {family: SERIF, size: 20, color: '#111'}
  };
  layout['xaxis' + (n === 1 ? '' : n)] = Object.assign({}, common, {
    domain: [px(b.plot[0]), px(b.plot[2])], anchor: ya, range: xRanges[i],
    tickmode: 'array', tickvals: xTickSets[i], ticktext: xTickSets[i].map(String),
    ticklabelstandoff: -4
  });
  layout['yaxis' + (n === 1 ? '' : n)] = Object.assign({}, common, {
    domain: [py(b.plot[3]), py(b.plot[1])], anchor: xa, range: yRanges[i],
    tickmode: 'array', tickvals: yTickSets[i][0], ticktext: yTickSets[i][1]
  });
  // grey panel background + white plotting area
  layout.shapes.push({type:'rect', xref:'paper', yref:'paper', layer:'below',
    x0: px(b.bg[0]), x1: px(b.bg[2]), y0: py(b.bg[3]), y1: py(b.bg[1]),
    fillcolor: '#efefef', line: {width: 0}});
  layout.shapes.push({type:'rect', xref:'paper', yref:'paper', layer:'below',
    x0: px(b.plot[0]), x1: px(b.plot[2]), y0: py(b.plot[3]), y1: py(b.plot[1]),
    fillcolor: '#ffffff', line: {width: 0}});
  const ann = (text, xy, font, extra) => layout.annotations.push(Object.assign({
    text, xref:'paper', yref:'paper', x: px(xy[0]), y: py(xy[1]),
    xanchor:'center', yanchor:'middle', showarrow:false, font}, extra || {}));
  ann(panelTitles[i], b.title, {family: TITLEFONT, size: 19, color: '#555'});
  ann(xAxisTitle, b.xlab, {family: SERIF, size: 20, color: '#111'});
  ann(yAxisTitle, b.ylab, {family: SERIF, size: 20, color: '#111'}, {textangle: -90});
  ann(captions[i], b.cap, {family: SERIF, size: 19, color: '#111'});
});

Plotly.newPlot('chart', traces, layout, {staticPlot: true, displayModeBar: false});
</script></body></html>
